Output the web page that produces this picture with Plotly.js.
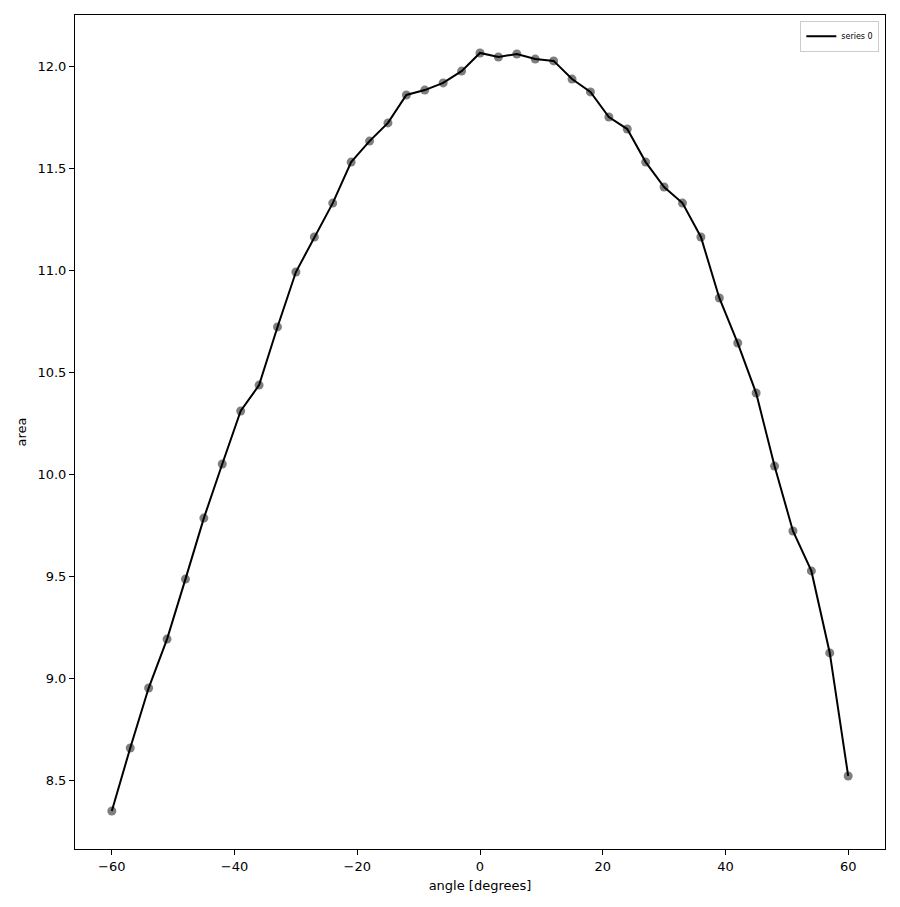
<!DOCTYPE html>
<html>
<head>
<meta charset="utf-8">
<script src="https://cdn.plot.ly/plotly-3.0.1.min.js"></script>
<style>body{margin:0;padding:0;background:#fff;}#chart{width:900px;height:907px;}</style>
</head>
<body>
<div id="chart"></div>
<script>
const angles = [-60,-57,-54,-51,-48,-45,-42,-39,-36,-33,-30,-27,-24,-21,-18,-15,-12,-9,-6,-3,0,3,6,9,12,15,18,21,24,27,30,33,36,39,42,45,48,51,54,57,60];
const areas = [8.348,8.657,8.951,9.191,9.485,9.784,10.049,10.309,10.436,10.721,10.990,11.162,11.328,11.529,11.632,11.721,11.858,11.882,11.917,11.975,12.064,12.044,12.059,12.034,12.025,11.936,11.873,11.750,11.691,11.529,11.407,11.328,11.162,10.863,10.642,10.397,10.039,9.721,9.525,9.123,8.520];
const seriesName = 'series 0';
const xTicks = [-60,-40,-20,0,20,40,60];
const xTickText = ['\u221260','\u221240','\u221220','0','20','40','60'];
const yTicks = [8.5,9.0,9.5,10.0,10.5,11.0,11.5,12.0];
const yTickText = ['8.5','9.0','9.5','10.0','10.5','11.0','11.5','12.0'];

const traces = [
  {x: angles, y: areas, type:'scatter', mode:'markers', showlegend:false,
   marker:{size:9, color:'rgba(0,0,0,0.5)', line:{width:0}}},
  {x: angles, y: areas, type:'scatter', mode:'lines', name: seriesName,
   line:{color:'#000', width:2}}
];
const layout = {
  width:900, height:907,
  margin:{l:75, r:15, t:15, b:58},
  paper_bgcolor:'#fff', plot_bgcolor:'#fff',
  font:{family:'DejaVu Sans', size:13, color:'#000'},
  showlegend:true,
  legend:{x:0.993, y:0.993, xanchor:'right', yanchor:'top', bgcolor:'rgba(255,255,255,0.8)',
          bordercolor:'#ccc', borderwidth:1, font:{size:8}, itemwidth:30},
  xaxis:{range:[-66,66], tickvals:xTicks, ticktext:xTickText, ticks:'outside', ticklen:5, tickwidth:1,
         tickcolor:'#000', showgrid:false, zeroline:false, showline:true, linecolor:'#000', linewidth:1, mirror:true,
         title:{text:'angle [degrees]', font:{size:13}, standoff:8}},
  yaxis:{range:[8.162,12.25], tickvals:yTicks, ticktext:yTickText, ticks:'outside', ticklen:5, tickwidth:1,
         tickcolor:'#000', showgrid:false, zeroline:false, showline:true, linecolor:'#000', linewidth:1, mirror:true,
         title:{text:'area', font:{size:13}, standoff:7}}
};
Plotly.newPlot('chart', traces, layout, {displayModeBar:false});
</script>
</body>
</html>
